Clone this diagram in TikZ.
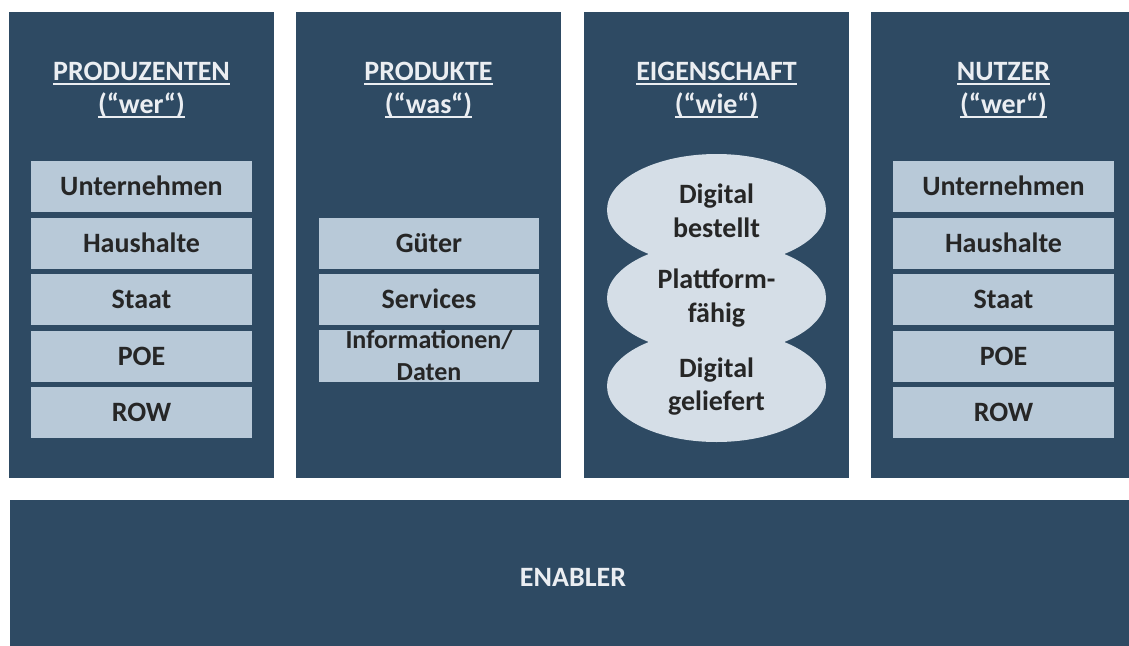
\documentclass[tikz,border=0pt]{standalone}
\usepackage{fontspec}
\setmainfont{Carlito}
\usetikzlibrary{shapes.geometric}

\definecolor{panel}{HTML}{2E4A63}
\definecolor{cell}{HTML}{B8C9D8}
\definecolor{oval}{HTML}{D5DEE7}
\definecolor{ink}{HTML}{262626}
\definecolor{headink}{HTML}{EBEEF2}

% underlined column heading
\newcommand\headul[1]{\setbox0\hbox{#1}\rlap{\color{headink}\rule[-5pt]{\wd0}{1.6pt}}\box0}

\tikzset{
  panelbox/.style={rectangle, fill=panel, draw=none, inner sep=0pt, outer sep=0pt,
    minimum width=265pt, minimum height=466pt},
  cellbox/.style={rectangle, fill=cell, draw=none, inner sep=0pt, outer sep=0pt,
    minimum width=221pt, minimum height=51pt, text=ink,
    font=\fontsize{28}{34}\selectfont\bfseries, text height=18pt, text depth=0pt},
  ovalbox/.style={ellipse, fill=oval, draw=none, inner sep=0pt, outer sep=0pt,
    minimum width=219pt, minimum height=112pt},
  headtxt/.style={anchor=base, inner sep=0pt, text=headink,
    font=\fontsize{28}{34}\selectfont\bfseries},
  inktxt/.style={anchor=base, inner sep=0pt, text=ink,
    font=\fontsize{28}{34}\selectfont\bfseries},
  smalltxt/.style={anchor=base, inner sep=0pt, text=ink,
    font=\fontsize{26}{32}\selectfont\bfseries},
}

\begin{document}
\begin{tikzpicture}[x=1pt,y=-1pt]
\useasboundingbox (0,0) rectangle (1129,645);

% columns
\node[panelbox] (p1) at (141.5,245) {};
\node[panelbox] (p2) at (428.5,245) {};
\node[panelbox] (p3) at (716.5,245) {};
\node[panelbox] (p4) at (1003.5,245) {};

% enabler bar
\node[panelbox, minimum width=1126pt, minimum height=154pt] (en) at (573,577) {};
\node[headtxt, anchor=center, text height=18pt, text depth=0pt] (entxt) at (573,577) {ENABLER};

% headings
\node[headtxt] (h1a) at (141.5,80) {\headul{PRODUZENTEN}};
\node[headtxt] (h1b) at (141.5,113) {\headul{(“wer“)}};
\node[headtxt] (h2a) at (428.5,80) {\headul{PRODUKTE}};
\node[headtxt] (h2b) at (428.5,113) {\headul{(“was“)}};
\node[headtxt] (h3a) at (716.5,80) {\headul{EIGENSCHAFT}};
\node[headtxt] (h3b) at (716.5,113) {\headul{(“wie“)}};
\node[headtxt] (h4a) at (1003.5,80) {\headul{NUTZER}};
\node[headtxt] (h4b) at (1003.5,113) {\headul{(“wer“)}};

% producers
\node[cellbox] (a1) at (141.5,186.5) {Unternehmen};
\node[cellbox] (a2) at (141.5,243) {Haushalte};
\node[cellbox] (a3) at (141.5,299.5) {Staat};
\node[cellbox] (a4) at (141.5,356) {POE};
\node[cellbox] (a5) at (141.5,412.5) {ROW};

% products
\node[cellbox, minimum width=220pt] (b1) at (429,243.5) {Güter};
\node[cellbox, minimum width=220pt] (b2) at (429,299.5) {Services};
\node[cellbox, minimum width=220pt, minimum height=52pt] (b3) at (429,356) {};
\node[smalltxt] (b3a) at (429,348) {Informationen/};
\node[smalltxt] (b3b) at (429,380) {Daten};

% properties
\node[ovalbox] (c1) at (716.5,210) {};
\node[ovalbox] (c2) at (716.5,298) {};
\node[ovalbox] (c3) at (716.5,386) {};
\node[inktxt] (c1a) at (716.5,203) {Digital};
\node[inktxt] (c1b) at (716.5,237) {bestellt};
\node[inktxt] (c2a) at (716.5,288) {Plattform-};
\node[inktxt] (c2b) at (716.5,322) {fähig};
\node[inktxt] (c3a) at (716.5,377) {Digital};
\node[inktxt] (c3b) at (716.5,410) {geliefert};

% users
\node[cellbox] (d1) at (1003.5,186.5) {Unternehmen};
\node[cellbox] (d2) at (1003.5,243) {Haushalte};
\node[cellbox] (d3) at (1003.5,299.5) {Staat};
\node[cellbox] (d4) at (1003.5,356) {POE};
\node[cellbox] (d5) at (1003.5,412.5) {ROW};
\end{tikzpicture}
\end{document}
